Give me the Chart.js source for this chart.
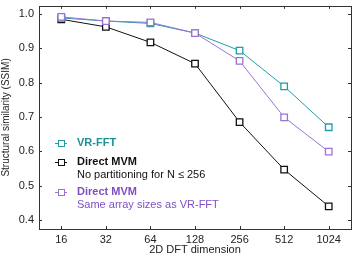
<!DOCTYPE html>
<html>
<head>
<meta charset="utf-8">
<script src="https://cdn.jsdelivr.net/npm/chart.js@4/dist/chart.umd.min.js"></script>
<style>
  html, body { margin: 0; padding: 0; background: #fff; }
  #wrap { width: 357px; height: 259px; }
</style>
</head>
<body>
<div id="wrap"><canvas id="grafico"></canvas></div>
<script>
// ---- datos ----
const dimensiones = ["16", "32", "64", "128", "256", "512", "1024"];
const vrFft      = [0.988, 0.979, 0.972, 0.944, 0.893, 0.789, 0.670];
const mvmSinPart = [0.984, 0.962, 0.917, 0.855, 0.685, 0.547, 0.440];
const mvmMismo   = [0.991, 0.979, 0.975, 0.944, 0.863, 0.699, 0.599];
const yTicks     = [0.4, 0.5, 0.6, 0.7, 0.8, 0.9, 1.0];

const TEAL = "#1f9ea6";
const PURPLE = "#9b72d6";
const FONT = "'Liberation Sans', Arial, sans-serif";

// Caja, ticks hacia adentro y leyenda
const marcoPlugin = {
  id: "marco",
  afterDraw(chart) {
    const { ctx, chartArea: a, scales } = chart;
    ctx.save();
    ctx.strokeStyle = "#333";
    ctx.lineWidth = 1;
    ctx.strokeRect(Math.round(a.left) + 0.5, Math.round(a.top) + 0.5,
      Math.round(a.right - a.left), Math.round(a.bottom - a.top));
    const t = 3;
    ctx.beginPath();
    scales.x.ticks.forEach((tk, i) => {
      const x = Math.round(scales.x.getPixelForTick(i)) + 0.5;
      ctx.moveTo(x, a.bottom); ctx.lineTo(x, a.bottom - t);
      ctx.moveTo(x, a.top); ctx.lineTo(x, a.top + t);
    });
    scales.y.ticks.forEach(tk => {
      const y = Math.round(scales.y.getPixelForValue(tk.value)) + 0.5;
      ctx.moveTo(a.left, y); ctx.lineTo(a.left + t, y);
      ctx.moveTo(a.right, y); ctx.lineTo(a.right - t, y);
    });
    ctx.stroke();

    // leyenda
    const items = [
      { color: TEAL, y: 143, lines: [["bold", "VR-FFT", "#1d8f97"]] },
      { color: "#111", y: 162, lines: [["bold", "Direct MVM", "#111"], ["normal", "No partitioning for N \u2264 256", "#111"]] },
      { color: PURPLE, y: 192, lines: [["bold", "Direct MVM", "#7f4fc2"], ["normal", "Same array sizes as VR-FFT", "#7f4fc2"]] }
    ];
    ctx.textBaseline = "middle";
    ctx.textAlign = "left";
    items.forEach(it => {
      ctx.strokeStyle = it.color;
      ctx.lineWidth = 1;
      ctx.beginPath();
      ctx.moveTo(55, it.y + 0.5); ctx.lineTo(67, it.y + 0.5);
      ctx.stroke();
      ctx.fillStyle = "#fff";
      ctx.fillRect(58, it.y - 2, 6, 6);
      ctx.strokeRect(58.5, it.y - 2.5, 6, 6);
      it.lines.forEach((ln, i) => {
        ctx.font = ln[0] + " 11px " + FONT;
        ctx.fillStyle = ln[2];
        ctx.fillText(ln[1], 77, it.y + i * 13);
      });
    });
    ctx.restore();
  }
};

function serie(label, data, color, order) {
  return {
    label, data, order,
    borderColor: color,
    backgroundColor: "#fff",
    borderWidth: 1,
    pointStyle: "rect",
    pointRadius: 4.6,
    pointBorderWidth: 1.3,
    pointBackgroundColor: "#fff",
    pointBorderColor: color,
    tension: 0
  };
}

new Chart(document.getElementById("grafico"), {
  type: "line",
  data: {
    labels: dimensiones,
    datasets: [
      serie("VR-FFT", vrFft, TEAL, 1),
      serie("Direct MVM (no partitioning)", mvmSinPart, "#111", 2),
      serie("Direct MVM (same sizes)", mvmMismo, PURPLE, 0)
    ]
  },
  options: {
    responsive: true,
    maintainAspectRatio: false,
    animation: false,
    layout: { padding: { top: 5, right: 6, left: 0, bottom: 0 } },
    plugins: { legend: { display: false }, tooltip: { enabled: false } },
    scales: {
      x: {
        type: "category",
        offset: true,
        afterFit: axis => { axis.height = 30; axis.paddingLeft = 0; axis.paddingRight = 0; },
        grid: { display: false, drawTicks: false },
        border: { display: false },
        ticks: { color: "#222", font: { family: FONT, size: 11 }, padding: 4, maxRotation: 0 },
        title: { display: true, text: "2D DFT dimension", color: "#222", font: { family: FONT, size: 11 }, padding: { top: 0, bottom: 2 } }
      },
      y: {
        min: 0.374,
        max: 1.023,
        afterBuildTicks: axis => { axis.ticks = yTicks.map(v => ({ value: v })); },
        afterFit: axis => { axis.width = 39; axis.paddingTop = 0; axis.paddingBottom = 0; },
        grid: { display: false, drawTicks: false },
        border: { display: false },
        ticks: { color: "#222", font: { family: FONT, size: 11 }, padding: 5, callback: v => v.toFixed(1) },
        title: { display: true, text: "Structural similarity (SSIM)", color: "#222", font: { family: FONT, size: 10 }, padding: { top: 0, bottom: 2 } }
      }
    }
  },
  plugins: [marcoPlugin]
});
</script>
</body>
</html>
